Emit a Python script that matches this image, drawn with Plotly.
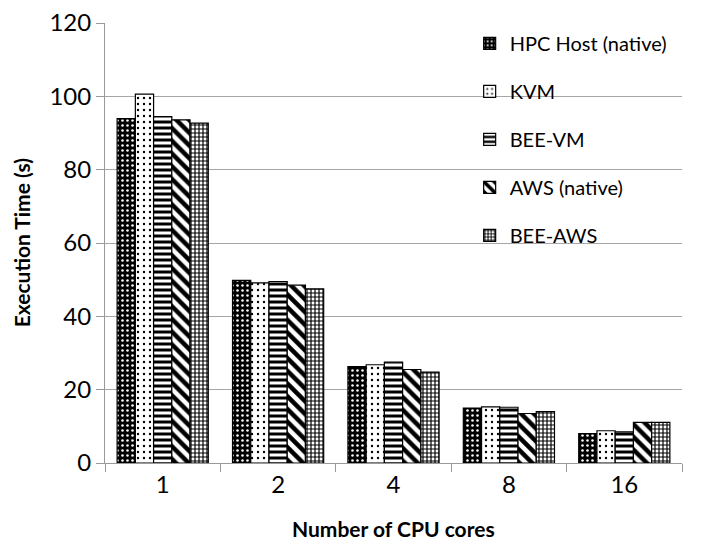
import plotly.graph_objects as go

categories = ["1", "2", "4", "8", "16"]
series_names = ["HPC Host (native)", "KVM", "BEE-VM", "AWS (native)", "BEE-AWS"]
hpc_host = [93.9, 49.8, 26.3, 15.0, 8.0]
kvm = [100.6, 49.1, 26.8, 15.3, 8.8]
bee_vm = [94.5, 49.5, 27.5, 15.2, 8.5]
aws_native = [93.6, 48.5, 25.5, 13.5, 11.1]
bee_aws = [92.7, 47.5, 24.8, 14.0, 11.1]
y_ticks = [0, 20, 40, 60, 80, 100, 120]

values = [hpc_host, kvm, bee_vm, aws_native, bee_aws]
patterns = [
    dict(shape=".", bgcolor="black", fgcolor="white", size=5, solidity=0.2, fillmode="replace"),
    dict(shape=".", bgcolor="white", fgcolor="black", size=6, solidity=0.12, fillmode="replace"),
    dict(shape="-", bgcolor="white", fgcolor="black", size=6, solidity=0.5, fillmode="replace"),
    dict(shape="\\", bgcolor="white", fgcolor="black", size=9, solidity=0.5, fillmode="replace"),
    dict(shape="+", bgcolor="white", fgcolor="black", size=4, solidity=0.5, fillmode="replace"),
]

FONT = "Lato, Calibri, Carlito, sans-serif"

fig = go.Figure()
for name, vals, pat in zip(series_names, values, patterns):
    fig.add_trace(go.Bar(
        x=categories, y=vals, name=name, legendgroup=name,
        marker=dict(color="white", pattern=pat, line=dict(color="black", width=1.2)),
    ))

fig.update_layout(
    width=701, height=542,
    margin=dict(l=97, r=27, t=15, b=87, autoexpand=False),
    paper_bgcolor="white", plot_bgcolor="white",
    barmode="group", bargap=0.21, bargroupgap=0,
    font=dict(family=FONT, color="black"),
    legend=dict(
        x=0.632, y=0.998, xanchor="left", yanchor="top",
        bgcolor="rgba(0,0,0,0)", font=dict(size=20, family=FONT),
        tracegroupgap=19, itemwidth=30,
    ),
    xaxis=dict(
        type="category", tickson="boundaries", ticks="outside", ticklen=8,
        tickcolor="#999999", showline=True, linecolor="#999999", linewidth=1,
        tickfont=dict(size=24, family=FONT), automargin=False,
        showgrid=False,
    ),
    yaxis=dict(
        range=[0, 120], tickvals=y_ticks, ticks="outside", ticklen=8,
        tickcolor="#999999", showline=True, linecolor="#999999", linewidth=1,
        gridcolor="#a6a6a6", gridwidth=1, automargin=False,
        tickfont=dict(size=24, family=FONT), ticklabeloverflow="allow",
        zeroline=False,
    ),
    annotations=[
        dict(text="<b>Number of CPU cores</b>", xref="paper", yref="paper",
             x=0.5, y=-0.148, xanchor="center", yanchor="middle", showarrow=False,
             font=dict(size=21, family=FONT)),
        dict(text="<b>Execution Time (s)</b>", xref="paper", yref="paper",
             x=-0.145, y=0.5, xanchor="center", yanchor="middle", showarrow=False,
             textangle=-90, font=dict(size=21, family=FONT)),
    ],
)

fig.write_html("out.html")
